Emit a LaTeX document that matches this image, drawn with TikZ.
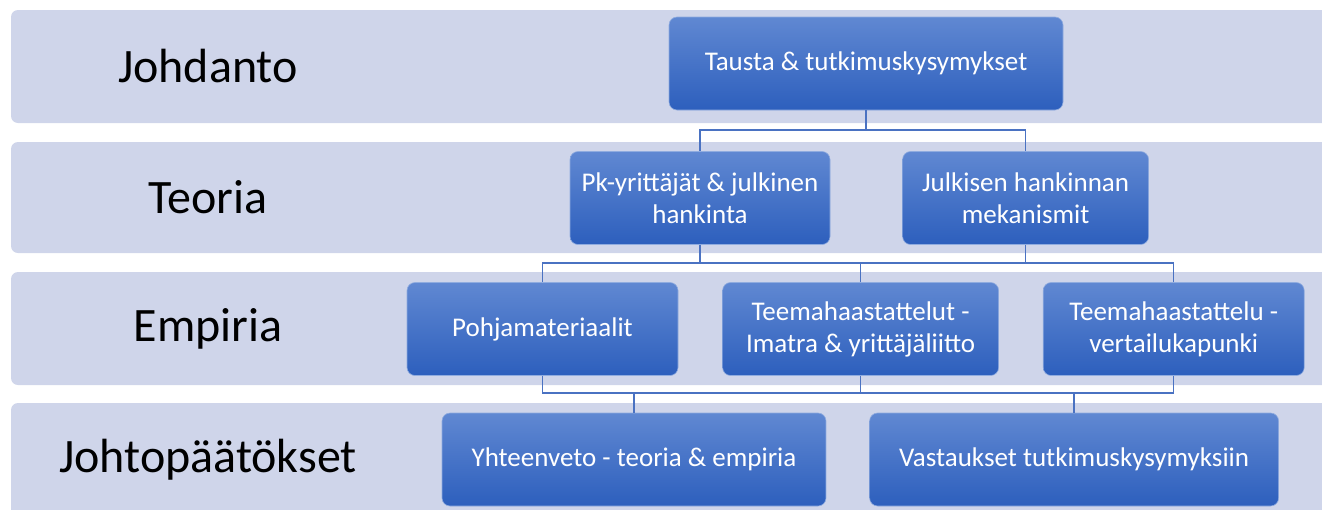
\documentclass[tikz,border=0pt]{standalone}
\usepackage{fontspec}
\setmainfont{Carlito}
\usetikzlibrary{positioning}

\definecolor{lanefill}{HTML}{CFD5EA}
\definecolor{boxtop}{HTML}{6088D2}
\definecolor{boxbot}{HTML}{2D5FBD}
\definecolor{linkcol}{HTML}{4A72C2}

\tikzset{
	lane/.style={fill=lanefill, rounded corners=7pt},
	lanelabel/.style={text=black, font=\fontsize{48}{57}\selectfont},
	box/.style={rounded corners=8pt, top color=boxtop, bottom color=boxbot, draw=boxtop!70!white, line width=0.6pt, text=white, align=center, minimum height=93pt, inner sep=2pt, font=\fontsize{27}{32}\selectfont},
	link/.style={draw=linkcol, line width=1.3pt}
}

\begin{document}
\begin{tikzpicture}[x=1pt, y=-1pt]
	\useasboundingbox (0,0) rectangle (1322,509);
	\clip (0,0) rectangle (1322,509);

	\fill[lane] (11,10) rectangle (1345,123);
	\fill[lane] (11,142) rectangle (1345,253);
	\fill[lane] (11,272) rectangle (1345,385);
	\fill[lane] (11,403) rectangle (1345,516);

	\node[lanelabel] (johdanto) at (208,66.5) {Johdanto};
	\node[lanelabel] (teoria) at (208,197.5) {Teoria};
	\node[lanelabel] (empiria) at (208,328.5) {Empiria};
	\node[lanelabel] (johtopaatokset) at (208,459.5) {Johtopäätökset};

	\node[box, minimum width=394pt] (tausta) at (866,63.5) {Tausta \& tutkimuskysymykset};
	\node[box, minimum width=260pt] (pk) at (700,198) {Pk-yrittäjät \& julkinen\\hankinta};
	\node[box, minimum width=246pt, right=72pt of pk] (julkisen) {Julkisen hankinnan\\mekanismit};
	\node[box, minimum width=271pt] (pohja) at (542.5,329) {Pohjamateriaalit};
	\node[box, minimum width=276pt, right=44pt of pohja] (teema) {Teemahaastattelut -\\Imatra \& yrittäjäliitto};
	\node[box, minimum width=261pt, right=44pt of teema] (vertailu) {Teemahaastattelu -\\vertailukapunki};
	\node[box, minimum width=384pt] (yhteenveto) at (634,459.5) {Yhteenveto - teoria \& empiria};
	\node[box, minimum width=409pt, right=43pt of yhteenveto] (vastaukset) {Vastaukset tutkimuskysymyksiin};

	\coordinate (bus1) at (0,130);
	\coordinate (bus2) at (0,263);
	\coordinate (bus3) at (0,393);

	\draw[link] (tausta.south) |- (bus1 -| pk.north) -- (pk.north);
	\draw[link] (tausta.south) |- (bus1 -| julkisen.north) -- (julkisen.north);
	\draw[link] (pk.south) |- (bus2 -| pohja.north) -- (pohja.north);
	\draw[link] (pk.south) |- (bus2 -| teema.north) -- (teema.north);
	\draw[link] (julkisen.south) |- (bus2 -| teema.north);
	\draw[link] (julkisen.south) |- (bus2 -| vertailu.north) -- (vertailu.north);
	\draw[link] (pohja.south) |- (bus3 -| yhteenveto.north) -- (yhteenveto.north);
	\draw[link] (pohja.south) |- (bus3 -| vastaukset.north) -- (vastaukset.north);
	\draw[link] (teema.south) -- (teema.south |- bus3);
	\draw[link] (vertailu.south) |- (bus3 -| vastaukset.north);
\end{tikzpicture}
\end{document}
